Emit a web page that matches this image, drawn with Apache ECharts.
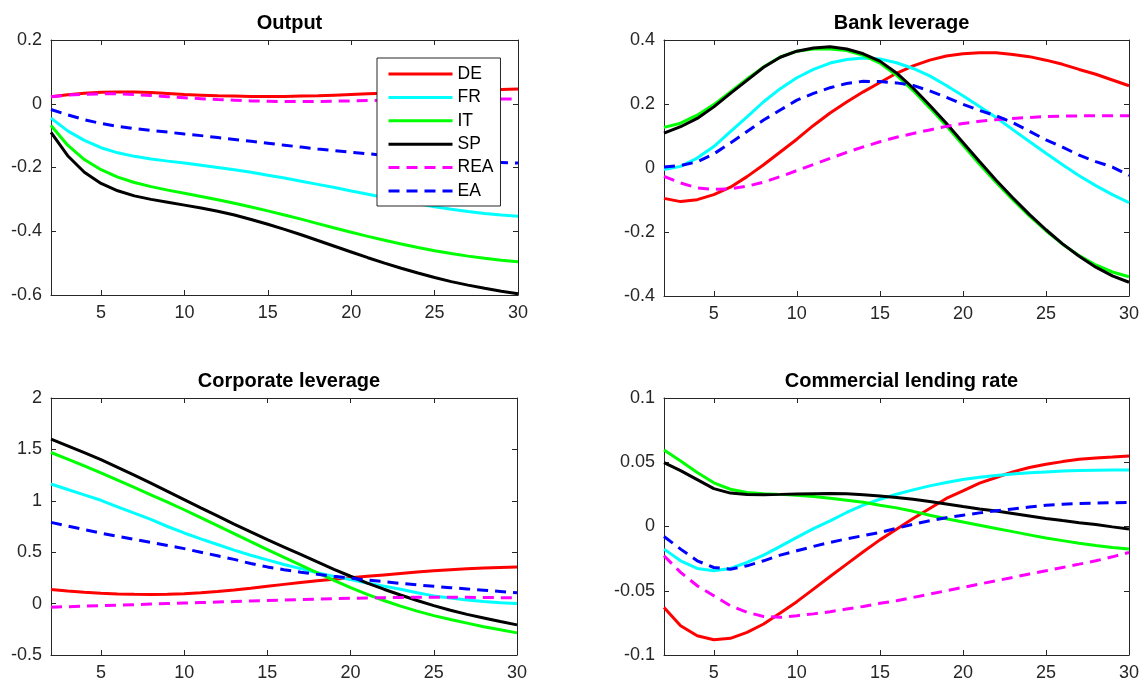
<!DOCTYPE html>
<html>
<head>
<meta charset="utf-8">
<script src="https://cdn.jsdelivr.net/npm/echarts@6/dist/echarts.min.js"></script>
<style>
html,body{margin:0;padding:0;background:#fff;}
#chart{width:1145px;height:686px;}
</style>
</head>
<body>
<div id="chart"></div>
<script>
// ---------- data ----------
const periods = [2,3,4,5,6,7,8,9,10,11,12,13,14,15,16,17,18,19,20,21,22,23,24,25,26,27,28,29,30];
const xTicks = [5,10,15,20,25,30];
const seriesNames = ['DE','FR','IT','SP','REA','EA'];
const panelTitles = ['Output','Bank leverage','Corporate leverage','Commercial lending rate'];

// Output
const outDE  = [0.022,0.028,0.033,0.036,0.037,0.037,0.035,0.032,0.029,0.027,0.025,0.024,0.023,0.023,0.023,0.024,0.025,0.027,0.029,0.031,0.033,0.035,0.037,0.039,0.041,0.043,0.044,0.045,0.046];
const outFR  = [-0.045,-0.085,-0.115,-0.138,-0.154,-0.165,-0.173,-0.180,-0.186,-0.193,-0.200,-0.207,-0.215,-0.224,-0.233,-0.243,-0.253,-0.263,-0.274,-0.284,-0.294,-0.304,-0.314,-0.323,-0.331,-0.338,-0.344,-0.349,-0.353];
const outIT  = [-0.068,-0.130,-0.175,-0.207,-0.230,-0.247,-0.260,-0.271,-0.281,-0.291,-0.301,-0.312,-0.324,-0.336,-0.349,-0.362,-0.376,-0.390,-0.403,-0.416,-0.428,-0.440,-0.451,-0.461,-0.470,-0.478,-0.485,-0.491,-0.496];
const outSP  = [-0.090,-0.163,-0.215,-0.250,-0.273,-0.289,-0.300,-0.309,-0.318,-0.327,-0.337,-0.349,-0.363,-0.378,-0.394,-0.411,-0.429,-0.447,-0.465,-0.483,-0.500,-0.516,-0.531,-0.545,-0.558,-0.569,-0.579,-0.588,-0.596];
const outREA = [0.022,0.027,0.030,0.031,0.031,0.029,0.026,0.022,0.019,0.016,0.013,0.011,0.009,0.008,0.007,0.007,0.007,0.008,0.009,0.010,0.011,0.012,0.013,0.014,0.014,0.015,0.015,0.015,0.015];
const outEA  = [-0.018,-0.035,-0.050,-0.062,-0.071,-0.078,-0.084,-0.089,-0.095,-0.100,-0.106,-0.112,-0.118,-0.124,-0.130,-0.136,-0.142,-0.147,-0.152,-0.157,-0.162,-0.166,-0.170,-0.174,-0.177,-0.180,-0.182,-0.184,-0.186];

// Bank leverage
const bankDE  = [-0.095,-0.105,-0.099,-0.083,-0.060,-0.027,0.010,0.050,0.090,0.133,0.172,0.206,0.238,0.267,0.296,0.319,0.337,0.350,0.357,0.360,0.360,0.355,0.348,0.337,0.324,0.308,0.293,0.275,0.257];
const bankFR  = [-0.005,0.005,0.031,0.067,0.114,0.160,0.207,0.248,0.282,0.308,0.328,0.339,0.344,0.341,0.329,0.311,0.288,0.258,0.226,0.192,0.158,0.120,0.083,0.046,0.010,-0.024,-0.055,-0.083,-0.108];
const bankIT  = [0.127,0.140,0.165,0.198,0.238,0.278,0.316,0.347,0.365,0.372,0.372,0.367,0.352,0.328,0.290,0.242,0.188,0.132,0.072,0.012,-0.045,-0.099,-0.150,-0.196,-0.238,-0.274,-0.303,-0.325,-0.340];
const bankSP  = [0.109,0.129,0.155,0.191,0.233,0.274,0.315,0.346,0.365,0.375,0.379,0.372,0.357,0.334,0.297,0.250,0.196,0.140,0.080,0.020,-0.038,-0.093,-0.145,-0.193,-0.237,-0.276,-0.310,-0.337,-0.357];
const bankREA = [-0.026,-0.047,-0.062,-0.067,-0.065,-0.057,-0.044,-0.027,-0.008,0.011,0.030,0.049,0.066,0.082,0.096,0.108,0.119,0.130,0.139,0.146,0.151,0.155,0.158,0.161,0.162,0.163,0.163,0.163,0.163];
const bankEA  = [0.003,0.008,0.019,0.044,0.078,0.114,0.150,0.181,0.212,0.233,0.251,0.264,0.271,0.270,0.266,0.258,0.241,0.221,0.199,0.180,0.163,0.142,0.115,0.088,0.065,0.040,0.020,0.003,-0.023];

// Corporate leverage
const corpDE  = [0.136,0.122,0.110,0.100,0.093,0.090,0.089,0.092,0.097,0.106,0.118,0.132,0.149,0.168,0.187,0.205,0.222,0.237,0.251,0.265,0.279,0.293,0.307,0.320,0.330,0.340,0.347,0.352,0.356];
const corpFR  = [1.163,1.110,1.058,1.005,0.940,0.880,0.820,0.750,0.687,0.630,0.575,0.520,0.470,0.425,0.380,0.340,0.300,0.265,0.233,0.200,0.170,0.140,0.105,0.075,0.055,0.035,0.020,0.008,0.000];
const corpIT  = [1.470,1.405,1.340,1.272,1.200,1.130,1.058,0.986,0.913,0.836,0.758,0.680,0.602,0.525,0.450,0.375,0.300,0.225,0.155,0.090,0.030,-0.025,-0.073,-0.117,-0.155,-0.190,-0.225,-0.255,-0.285];
const corpSP  = [1.600,1.535,1.468,1.400,1.326,1.250,1.172,1.092,1.012,0.932,0.853,0.774,0.697,0.622,0.550,0.478,0.405,0.334,0.266,0.200,0.140,0.084,0.030,-0.020,-0.065,-0.105,-0.140,-0.175,-0.207];
const corpREA = [-0.035,-0.030,-0.025,-0.020,-0.015,-0.010,-0.005,0.000,0.005,0.010,0.015,0.020,0.025,0.030,0.035,0.040,0.044,0.048,0.052,0.055,0.058,0.060,0.061,0.062,0.062,0.061,0.060,0.058,0.056];
const corpEA  = [0.790,0.755,0.720,0.685,0.655,0.625,0.595,0.565,0.535,0.500,0.465,0.430,0.390,0.357,0.330,0.305,0.285,0.265,0.248,0.230,0.213,0.197,0.182,0.168,0.155,0.143,0.131,0.118,0.105];

// Commercial lending rate
const rateDE  = [-0.0630,-0.0772,-0.0850,-0.0881,-0.0870,-0.0824,-0.0759,-0.0674,-0.0585,-0.0487,-0.0389,-0.0293,-0.0197,-0.0104,-0.0021,0.0062,0.0140,0.0218,0.0277,0.0337,0.0381,0.0425,0.0459,0.0484,0.0505,0.0523,0.0534,0.0541,0.0549];
const rateFR  = [-0.0176,-0.0267,-0.0326,-0.0345,-0.0326,-0.0280,-0.0223,-0.0155,-0.0085,-0.0016,0.0044,0.0109,0.0166,0.0212,0.0251,0.0285,0.0316,0.0342,0.0366,0.0383,0.0397,0.0409,0.0418,0.0425,0.0431,0.0435,0.0438,0.0439,0.0440];
const rateIT  = [0.0595,0.0510,0.0420,0.0340,0.0290,0.0265,0.0255,0.0250,0.0243,0.0233,0.0220,0.0205,0.0188,0.0166,0.0145,0.0118,0.0088,0.0060,0.0035,0.0010,-0.0015,-0.0040,-0.0065,-0.0090,-0.0110,-0.0130,-0.0148,-0.0163,-0.0176];
const rateSP  = [0.0497,0.0435,0.0365,0.0295,0.0260,0.0249,0.0248,0.0250,0.0253,0.0255,0.0256,0.0254,0.0248,0.0238,0.0226,0.0212,0.0195,0.0175,0.0155,0.0137,0.0120,0.0101,0.0082,0.0063,0.0046,0.0030,0.0015,-0.0003,-0.0020];
const rateREA = [-0.0228,-0.0357,-0.0461,-0.0539,-0.0617,-0.0668,-0.0700,-0.0707,-0.0694,-0.0680,-0.0663,-0.0642,-0.0622,-0.0598,-0.0578,-0.0552,-0.0526,-0.0500,-0.0474,-0.0448,-0.0422,-0.0396,-0.0370,-0.0345,-0.0319,-0.0293,-0.0267,-0.0236,-0.0202];
const rateEA  = [-0.0078,-0.0176,-0.0267,-0.0319,-0.0332,-0.0306,-0.0267,-0.0223,-0.0189,-0.0155,-0.0124,-0.0096,-0.0071,-0.0047,-0.0014,0.0018,0.0045,0.0068,0.0088,0.0106,0.0122,0.0137,0.0152,0.0166,0.0174,0.0179,0.0182,0.0185,0.0187];

// y-axis ranges: [min, max, interval]
const yRanges = [[-0.6,0.2,0.2],[-0.4,0.4,0.2],[-0.5,2,0.5],[-0.1,0.1,0.05]];

// ---------- layout & style ----------
const panelData = [
  [outDE,outFR,outIT,outSP,outREA,outEA],
  [bankDE,bankFR,bankIT,bankSP,bankREA,bankEA],
  [corpDE,corpFR,corpIT,corpSP,corpREA,corpEA],
  [rateDE,rateFR,rateIT,rateSP,rateREA,rateEA]
];
const grids = [
  {left:51, top:40, width:467, height:255},
  {left:664, top:40, width:465, height:256},
  {left:51, top:398, width:466, height:257},
  {left:664, top:398, width:465, height:257}
];
const lineColors = ['#ff0000','#00ffff','#00ff00','#000000','#ff00ff','#0000ff'];
const dashed = [false,false,false,false,true,true];
const FONT = '"Liberation Sans", Arial, Helvetica, sans-serif';
const AX = '#262626';

const xAxes = [], yAxes = [], series = [], titles = [];
grids.forEach((g, p) => {
  const tickX = {show:true, inside:true, length:5, customValues:xTicks, lineStyle:{color:AX,width:1}};
  xAxes.push({
    type:'value', gridIndex:p, position:'bottom', min:2, max:30,
    axisLine:{show:true, onZero:false, lineStyle:{color:AX,width:1}},
    axisTick:tickX,
    axisLabel:{show:true, customValues:xTicks, color:AX, fontSize:18, fontFamily:FONT, margin:9},
    splitLine:{show:false}
  });
  xAxes.push({
    type:'value', gridIndex:p, position:'top', min:2, max:30,
    axisLine:{show:true, onZero:false, lineStyle:{color:AX,width:1}},
    axisTick:tickX,
    axisLabel:{show:false},
    splitLine:{show:false}
  });
  const [ymin,ymax,yint] = yRanges[p];
  const tickY = {show:true, inside:true, length:5, lineStyle:{color:AX,width:1}};
  const fmt = v => String(Math.round(v*10000)/10000);
  yAxes.push({
    type:'value', gridIndex:p, position:'left', min:ymin, max:ymax, interval:yint,
    axisLine:{show:true, onZero:false, lineStyle:{color:AX,width:1}},
    axisTick:tickY,
    axisLabel:{show:true, color:AX, fontSize:18, fontFamily:FONT, margin:9, formatter:fmt},
    splitLine:{show:false}
  });
  yAxes.push({
    type:'value', gridIndex:p, position:'right', min:ymin, max:ymax, interval:yint,
    axisLine:{show:true, onZero:false, lineStyle:{color:AX,width:1}},
    axisTick:tickY,
    axisLabel:{show:false},
    splitLine:{show:false}
  });
  titles.push({
    text: panelTitles[p],
    left: g.left + g.width/2, top: g.top - 32, textAlign:'center',
    textStyle:{fontSize:20, fontWeight:'bold', color:'#000', fontFamily:FONT}
  });
  panelData[p].forEach((arr, k) => {
    series.push({
      type:'line', name:seriesNames[k], xAxisIndex:p*2, yAxisIndex:p*2,
      data: periods.map((x,i) => [x, arr[i]]),
      symbol:'none', showSymbol:false, smooth:false, silent:true,
      lineStyle:{color:lineColors[k], width:3, type: dashed[k] ? [11,7] : 'solid'},
      itemStyle:{color:lineColors[k]},
      z: 2
    });
  });
});

const chart = echarts.init(document.getElementById('chart'), null, {renderer:'canvas'});
chart.setOption({
  animation:false,
  backgroundColor:'#ffffff',
  title: titles,
  grid: grids.map(g => Object.assign({containLabel:false}, g)),
  xAxis: xAxes,
  yAxis: yAxes,
  legend: {
    z: 20,
    data: seriesNames, orient:'vertical', left:377, top:58,
    itemWidth:64, itemHeight:14, itemGap:5.4,
    padding:[7,7,6,10],
    backgroundColor:'#ffffff', borderColor:AX, borderWidth:1, borderRadius:0,
    textStyle:{fontSize:17.5, color:'#000', fontFamily:FONT},
    itemStyle:{opacity:0},
    lineStyle:{width:3},
    selectedMode:false
  },
  series: series
});
</script>
</body>
</html>
